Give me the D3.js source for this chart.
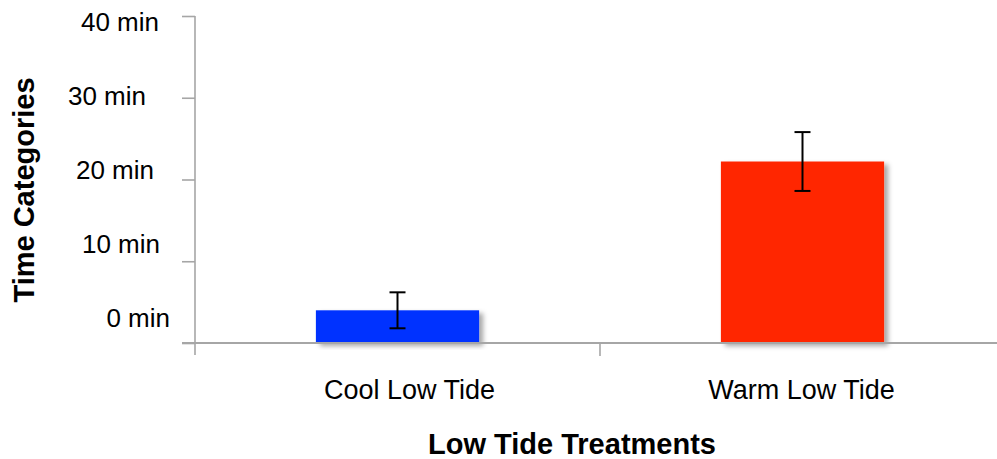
<!DOCTYPE html>
<html><head><meta charset="utf-8">
<script src="https://cdn.jsdelivr.net/npm/d3@7"></script>
<style>
html,body{margin:0;padding:0;background:#fff;}
text{font-family:"Liberation Sans",Arial,Helvetica,sans-serif;fill:#000;}
</style></head>
<body>
<svg id="chart" width="997" height="459"></svg>
<script>
// ---- data ----
const categories = ["Cool Low Tide", "Warm Low Tide"];
const values = [4.0, 22.2];
const errors = [2.2, 3.6];
const barColors = ["#0433FF", "#FF2600"];
const yTickValues = [0, 10, 20, 30, 40];
const yTickLabels = ["0 min", "10 min", "20 min", "30 min", "40 min"];
const xTitle = "Low Tide Treatments";
const yTitle = "Time Categories";

// ---- layout ----
const W = 997, H = 459;
const axisX = 195, axisY = 343;
const svg = d3.select("#chart");

const y = d3.scaleLinear().domain([0, 40]).range([axisY, 16]);
const x = d3.scaleBand().domain(categories).range([axisX, 1005]).padding(0);
// label placement (staggered as in the original artwork)
const yLabelPos = d3.scaleLinear().domain([0, 40]).range([318, 22]);
const yLabelNudge = [10, 0, -6, -14, -1];
const xLabelNudge = [12, -1];

const defs = svg.append("defs");
const f = defs.append("filter").attr("id", "shadow")
  .attr("x", "-10%").attr("y", "-10%").attr("width", "130%").attr("height", "130%");
f.append("feDropShadow").attr("dx", 4).attr("dy", 3).attr("stdDeviation", 2.5)
  .attr("flood-color", "#000").attr("flood-opacity", 0.35);

const axisColor = "#a6a6a6";

// bars
const barW = x.bandwidth() * 0.403;
svg.append("g").selectAll("rect").data(categories).join("rect")
  .attr("x", d => x(d) + x.bandwidth() / 2 - barW / 2)
  .attr("width", barW)
  .attr("y", (d, i) => y(values[i]))
  .attr("height", (d, i) => y(0) - y(values[i]))
  .attr("fill", (d, i) => barColors[i])
  .attr("filter", "url(#shadow)");

// y axis
const yAxis = d3.axisLeft(y).tickValues(yTickValues).tickSize(13).tickFormat("");
const gy = svg.append("g").attr("transform", `translate(${axisX},0)`).call(yAxis);
gy.select(".domain").remove();
gy.selectAll(".tick line").attr("stroke", axisColor).attr("stroke-width", 1.6);
svg.append("line").attr("x1", axisX).attr("x2", axisX)
  .attr("y1", y(40)).attr("y2", axisY + 12)
  .attr("stroke", axisColor).attr("stroke-width", 1.6);

// x axis
svg.append("line").attr("x1", axisX - 13).attr("x2", W)
  .attr("y1", axisY).attr("y2", axisY)
  .attr("stroke", axisColor).attr("stroke-width", 1.8);
const xAxis = d3.axisBottom(x).tickSize(0).tickFormat("");
const gx = svg.append("g").attr("transform", `translate(0,${axisY})`).call(xAxis);
gx.select(".domain").remove();
// ticks between categories
const boundaries = categories.slice(1).map(c => x(c));
svg.append("g").selectAll("line").data(boundaries).join("line")
  .attr("x1", d => d).attr("x2", d => d)
  .attr("y1", axisY).attr("y2", axisY + 13)
  .attr("stroke", axisColor).attr("stroke-width", 1.6);

// y tick labels
svg.append("g").selectAll("text").data(yTickValues).join("text")
  .attr("x", (d, i) => 160 + yLabelNudge[i])
  .attr("y", d => yLabelPos(d))
  .attr("dy", "0.36em")
  .attr("text-anchor", "end")
  .attr("font-size", 26)
  .text((d, i) => yTickLabels[i]);

// x category labels
svg.append("g").selectAll("text").data(categories).join("text")
  .attr("x", (d, i) => x(d) + x.bandwidth() / 2 + xLabelNudge[i])
  .attr("y", 399)
  .attr("text-anchor", "middle")
  .attr("font-size", 27)
  .text(d => d);

// error bars
const eb = svg.append("g").attr("stroke", "#000").attr("stroke-width", 2);
const capW = 16;
categories.forEach((c, i) => {
  const cx = x(c) + x.bandwidth() / 2;
  const hi = y(values[i] + errors[i]), lo = y(values[i] - errors[i]);
  eb.append("line").attr("x1", cx).attr("x2", cx).attr("y1", hi).attr("y2", lo);
  eb.append("line").attr("x1", cx - capW / 2).attr("x2", cx + capW / 2).attr("y1", hi).attr("y2", hi);
  eb.append("line").attr("x1", cx - capW / 2).attr("x2", cx + capW / 2).attr("y1", lo).attr("y2", lo);
});

// titles
svg.append("text").attr("x", 572).attr("y", 454)
  .attr("text-anchor", "middle").attr("font-weight", "bold").attr("font-size", 29)
  .text(xTitle);
svg.append("text").attr("transform", "translate(34,190) rotate(-90)")
  .attr("text-anchor", "middle").attr("font-weight", "bold").attr("font-size", 29)
  .text(yTitle);
</script>
</body></html>
